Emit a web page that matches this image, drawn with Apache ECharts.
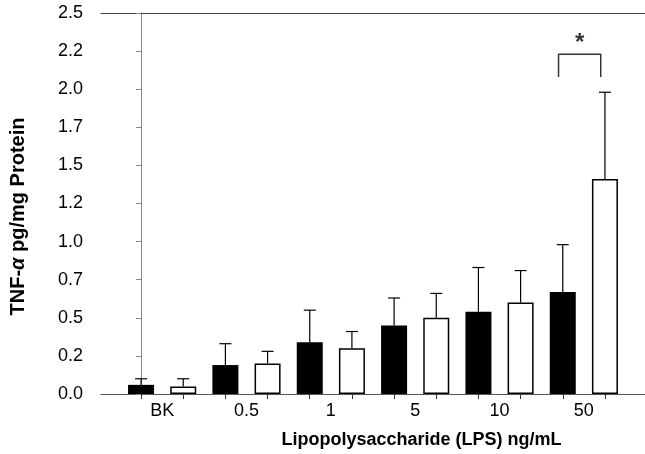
<!DOCTYPE html>
<html>
<head>
<meta charset="utf-8">
<script src="https://cdn.jsdelivr.net/npm/echarts@6/dist/echarts.min.js"></script>
<style>
  html, body { margin: 0; padding: 0; background: #fff; }
  #chart { width: 645px; height: 454px; }
</style>
</head>
<body>
<div id="chart"></div>
<script>
// LPS dose groups
const categories = ['BK', '0.5', '1', '5', '10', '50'];
// black bars (first group) mean and mean+error
const blackMeans = [0.06, 0.19, 0.34, 0.45, 0.54, 0.67];
const blackTops = [0.10, 0.33, 0.55, 0.63, 0.83, 0.98];
// white bars (second group) mean and mean+error
const whiteMeans = [0.05, 0.20, 0.30, 0.50, 0.60, 1.41];
const whiteTops = [0.10, 0.28, 0.41, 0.66, 0.81, 1.98];
// y tick labels (every 0.25)
const yTickLabels = ['0.0', '0.2', '0.5', '0.7', '1.0', '1.2', '1.5', '1.7', '2.0', '2.2', '2.5'];
// significance bracket over the 50 ng/mL pair
const bracketX = [9.9, 10.9];
const bracketY = [2.08, 2.23];
const starPos = [10.4, 2.30];

// bar i sits at x = i; black = 2k, white = 2k+1
const blackData = blackMeans.map((v, k) => [2 * k, v]);
const whiteData = whiteMeans.map((v, k) => [2 * k + 1, v]);
const errData = [];
categories.forEach((c, k) => {
  errData.push([2 * k, blackMeans[k], blackTops[k]]);
  errData.push([2 * k + 1, whiteMeans[k], whiteTops[k]]);
});
const barTicks = errData.map(d => d[0]);
const labelPos = categories.map((c, k) => 2 * k + 0.5);

const chart = echarts.init(document.getElementById('chart'));

const option = {
  animation: false,
  grid: { left: 100, right: 0, top: 13, bottom: 60 },
  xAxis: [
    {
      type: 'value',
      min: -0.95,
      max: 11.95,
      name: 'Lipopolysaccharide (LPS) ng/mL',
      nameLocation: 'middle',
      nameGap: 37,
      nameTextStyle: {
        fontFamily: 'Liberation Sans',
        fontWeight: 'bold',
        fontSize: 18,
        color: '#000',
        padding: [0, 0, 0, 97],
      },
      axisLine: { show: true, lineStyle: { color: '#555', width: 1.2 } },
      axisTick: {
        show: true,
        length: 5,
        customValues: barTicks,
        lineStyle: { color: '#333' },
      },
      axisLabel: {
        customValues: labelPos,
        formatter: v => categories[Math.round((v - 0.5) / 2)],
        margin: 8,
        fontFamily: 'Liberation Sans',
        fontSize: 18,
        color: '#000',
      },
      splitLine: { show: false },
    },
    {
      type: 'value',
      position: 'top',
      min: -0.95,
      max: 11.95,
      axisLine: { show: true, lineStyle: { color: '#444', width: 1.2 } },
      axisTick: { show: false },
      axisLabel: { show: false },
      splitLine: { show: false },
    },
  ],
  yAxis: {
    type: 'value',
    min: 0,
    max: 2.5,
    interval: 0.25,
    name: '{a|TNF-}{b|α}{a| pg/mg Protein}',
    nameLocation: 'middle',
    nameGap: 73,
    nameTextStyle: {
      padding: [0, 26, 0, 0],
      rich: {
        a: { fontFamily: 'Liberation Sans', fontWeight: 'bold', fontSize: 20, color: '#000' },
        b: { fontFamily: 'Liberation Sans', fontWeight: 'bold', fontStyle: 'italic', fontSize: 20, color: '#000' },
      },
    },
    axisLine: { show: true, lineStyle: { color: '#888' } },
    axisTick: { show: true, length: 5, lineStyle: { color: '#888' } },
    axisLabel: {
      formatter: v => yTickLabels[Math.round(v / 0.25)],
      margin: 18,
      fontFamily: 'Liberation Sans',
      fontSize: 18,
      color: '#000',
    },
    splitLine: { show: false },
  },
  series: [
    {
      type: 'bar',
      data: blackData,
      barWidth: 26,
      barGap: '-100%',
      itemStyle: { color: '#000' },
    },
    {
      type: 'bar',
      data: whiteData,
      barWidth: 26,
      barGap: '-100%',
      itemStyle: { color: '#fff', borderColor: '#000', borderWidth: 1.5 },
    },
    {
      type: 'custom',
      data: errData,
      z: 5,
      renderItem: (params, api) => {
        const base = api.coord([api.value(0), api.value(1)]);
        const top = api.coord([api.value(0), api.value(2)]);
        const style = { stroke: '#000', lineWidth: 1.2 };
        return {
          type: 'group',
          children: [
            { type: 'line', shape: { x1: base[0], y1: base[1], x2: top[0], y2: top[1] }, style },
            { type: 'line', shape: { x1: top[0] - 6, y1: top[1], x2: top[0] + 6, y2: top[1] }, style },
          ],
        };
      },
    },
    {
      type: 'line',
      data: [
        [bracketX[0], bracketY[0]],
        [bracketX[0], bracketY[1]],
        [bracketX[1], bracketY[1]],
        [bracketX[1], bracketY[0]],
      ],
      symbol: 'none',
      lineStyle: { color: '#333', width: 1.5 },
    },
    {
      type: 'scatter',
      data: [starPos],
      symbolSize: 0,
      label: {
        show: true,
        position: 'inside',
        formatter: '*',
        fontFamily: 'Liberation Sans',
        fontWeight: 'bold',
        fontSize: 24,
        color: '#000',
      },
    },
  ],
};

chart.setOption(option);
</script>
</body>
</html>
